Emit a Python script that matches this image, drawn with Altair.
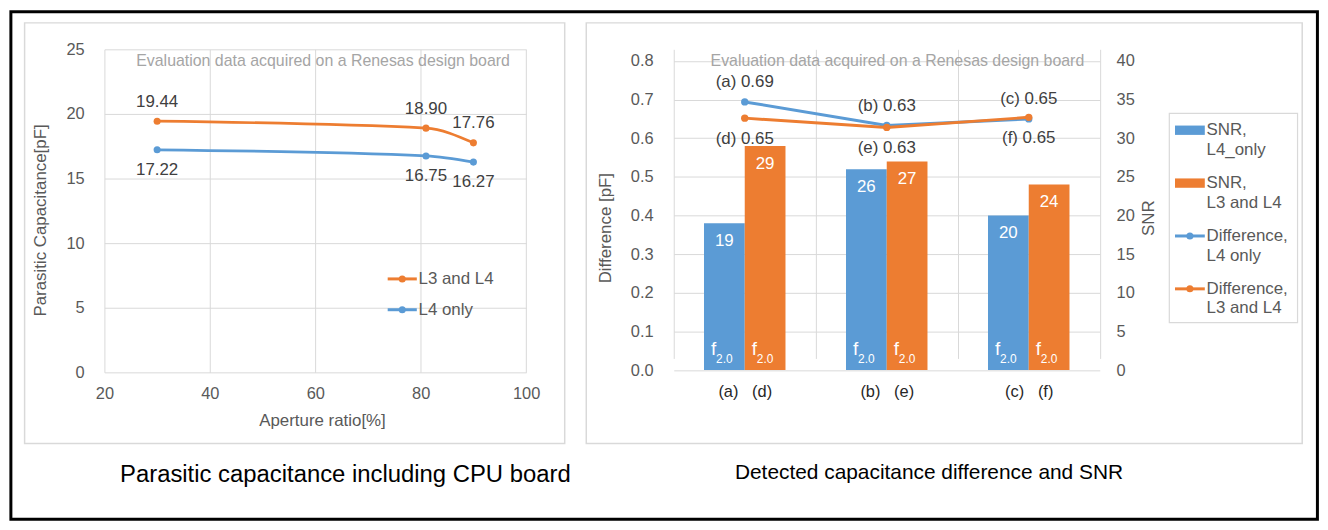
import altair as alt
import pandas as pd

# ---------------- data ----------------
# left chart: parasitic capacitance vs aperture ratio
aperture = [30, 81, 90]
cap_l3_l4 = [19.44, 18.90, 17.76]
cap_l4_only = [17.22, 16.75, 16.27]
cap_series = ["L3 and L4", "L4 only"]

# right chart: detected difference and SNR
categories = ["(a)\u00a0\u00a0\u00a0(d)", "(b)\u00a0\u00a0\u00a0(e)", "(c)\u00a0\u00a0\u00a0(f)"]
bar_series = ["SNR, L4_only", "SNR, L3 and L4"]
snr_l4_only = [19, 26, 20]
snr_l3_l4 = [29, 27, 24]
diff_l4_only = [0.694, 0.633, 0.650]
diff_l3_l4 = [0.652, 0.628, 0.654]
diff_l4_tags = ["(a) 0.69", "(b) 0.63", "(c) 0.65"]
diff_l3_l4_tags = ["(d) 0.65", "(e) 0.63", "(f) 0.65"]

# ---------------- styling ----------------
FONT = "Liberation Sans"
BLUE = "#5B9BD5"
ORANGE = "#ED7D31"
GRID = "#D9D9D9"
AXIS_TXT = "#595959"
DATA_TXT = "#404040"
NOTE_TXT = "#A5A5A5"
NOTE = "Evaluation data acquired on a Renesas design board"

one = pd.DataFrame({"k": [0]})


def txt(text, x, y, size, color, align="center"):
    return alt.Chart(one).mark_text(
        text=text, font=FONT, fontSize=size, color=color, align=align, baseline="middle"
    ).encode(x=alt.value(x), y=alt.value(y))


def frame(x1, x2, y1, y2, color, width):
    return alt.Chart(one).mark_rect(
        fillOpacity=0, stroke=color, strokeWidth=width
    ).encode(x=alt.value(x1), x2=alt.value(x2), y=alt.value(y1), y2=alt.value(y2))


def swatch(x1, x2, yc, h, color):
    return alt.Chart(one).mark_rect(color=color).encode(
        x=alt.value(x1), x2=alt.value(x2), y=alt.value(yc - h / 2), y2=alt.value(yc + h / 2)
    )


def line_key(x1, x2, yc, color):
    r = alt.Chart(one).mark_rule(color=color, strokeWidth=3).encode(
        x=alt.value(x1), x2=alt.value(x2), y=alt.value(yc)
    )
    p = alt.Chart(one).mark_circle(color=color, size=50, opacity=1).encode(
        x=alt.value((x1 + x2) / 2), y=alt.value(yc)
    )
    return r + p


# ---------------- left panel ----------------
LW, LH = 424.3, 325

xl = alt.X(
    "ratio:Q",
    scale=alt.Scale(domain=[20, 100], nice=False, zero=False),
    axis=alt.Axis(
        values=[20, 40, 60, 80, 100], title="Aperture ratio[%]", grid=True, gridColor=GRID,
        domain=False, ticks=False, labelFlush=False, labelPadding=21, labelBaseline="middle",
        titleX=218.9, titleY=48.4, titleBaseline="middle",
    ),
)
yl = alt.Y(
    "cap:Q",
    scale=alt.Scale(domain=[0, 25], nice=False),
    axis=alt.Axis(
        values=[0, 5, 10, 15, 20, 25], title="Parasitic Capacitance[pF]", grid=True,
        gridColor=GRID, domain=False, ticks=False, labelFlush=False, labelPadding=20.4,
        titleAngle=270, titleX=-64.3, titleY=171.7, titleBaseline="middle", titleAlign="center",
    ),
)


def left_series(vals, color, dy):
    df = pd.DataFrame({"ratio": aperture, "cap": vals})
    df["label"] = df["cap"].map(lambda v: f"{v:.2f}")
    base = alt.Chart(df).encode(x=xl, y=yl)
    ln = base.mark_line(color=color, strokeWidth=2.75, interpolate="monotone")
    pt = base.mark_circle(color=color, size=50, opacity=1)
    lb = base.mark_text(font=FONT, fontSize=17, color=DATA_TXT, dy=dy).encode(text="label:N")
    return ln + pt + lb


left = alt.layer(
    frame(-94.1, 1220.4, -37.8, 472.7, "black", 3),
    frame(-80.3, 463.1, -26.6, 396.7, GRID, 1.5),
    left_series(cap_l4_only, BLUE, 20),
    left_series(cap_l3_l4, ORANGE, -19.7),
    txt(NOTE, 220, 11.7, 16, NOTE_TXT),
    line_key(285, 314.3, 231, ORANGE),
    txt(cap_series[0], 316, 231, 17, AXIS_TXT, "left"),
    line_key(285, 314.3, 262, BLUE),
    txt(cap_series[1], 316, 262, 17, AXIS_TXT, "left"),
    txt("Parasitic capacitance including CPU board", 242.4, 428.7, 24, "black"),
).properties(width=LW, height=LH)

# ---------------- right panel ----------------
RW, RH = 428.6, 322.7
RTOP = 11.7

xr = alt.X(
    "cat:N", sort=categories,
    scale=alt.Scale(paddingInner=0, paddingOuter=0),
    axis=alt.Axis(
        title=None, labelAngle=0, tickBand="extent", grid=True, gridColor=GRID, domain=False,
        ticks=False, labelPadding=21.7, labelBaseline="middle", labelColor="#262626",
    ),
)
xo = alt.XOffset("series:N", sort=bar_series, scale=alt.Scale(paddingInner=0, paddingOuter=0.7426))

y_snr = alt.Y(
    "snr:Q",
    scale=alt.Scale(domain=[0, 40], range=[RH, RTOP], nice=False),
    axis=alt.Axis(
        orient="right", values=list(range(0, 45, 5)), title="SNR", grid=False, domain=False,
        ticks=False, labelFlush=False, labelPadding=16.4, titleAngle=270, titleX=49,
        titleY=169.4, titleBaseline="middle", titleAlign="center",
    ),
)
y_diff = alt.Y(
    "diff:Q",
    scale=alt.Scale(domain=[0, 0.8], range=[RH, RTOP], nice=False),
    axis=alt.Axis(
        orient="left", values=[0, 0.1, 0.2, 0.3, 0.4, 0.5, 0.6, 0.7, 0.8], format=".1f",
        title="Difference [pF]", grid=True, gridColor=GRID, domain=False, ticks=False,
        labelFlush=False, labelPadding=20.7, titleAngle=270, titleX=-68.9, titleY=179.4,
        titleBaseline="middle", titleAlign="center",
    ),
)

bars_df = pd.DataFrame({
    "cat": categories + categories,
    "series": [bar_series[0]] * 3 + [bar_series[1]] * 3,
    "snr": snr_l4_only + snr_l3_l4,
})
bar_base = alt.Chart(bars_df).encode(x=xr, xOffset=xo)
bars = bar_base.mark_bar().encode(
    y=y_snr,
    color=alt.Color("series:N", scale=alt.Scale(domain=bar_series, range=[BLUE, ORANGE]), legend=None),
)
bar_lbl = bar_base.mark_text(font=FONT, fontSize=17, color="white", dy=17.7).encode(y=y_snr, text="snr:Q")
f_lbl = bar_base.mark_text(
    text="f", font=FONT, fontSize=19, color="white", align="left", baseline="alphabetic", dx=-13.5, dy=-15
).encode(y=alt.datum(0))
sub_lbl = bar_base.mark_text(
    text="2.0", font=FONT, fontSize=12, color="white", align="center", baseline="alphabetic", dy=-6.7
).encode(y=alt.datum(0))
bar_group = alt.layer(bars, bar_lbl, f_lbl, sub_lbl)


def diff_series(vals, tags, color, dy):
    df = pd.DataFrame({"cat": categories, "diff": vals, "tag": tags})
    base = alt.Chart(df).encode(x=xr, y=y_diff)
    ln = base.mark_line(color=color, strokeWidth=3)
    pt = base.mark_circle(color=color, size=55, opacity=1)
    lb = base.mark_text(font=FONT, fontSize=17, color=DATA_TXT, dy=dy).encode(text="tag:N")
    return [ln, pt, lb]


line_group = alt.layer(
    *diff_series(diff_l4_only, diff_l4_tags, BLUE, -20),
    *diff_series(diff_l3_l4, diff_l3_l4_tags, ORANGE, 21),
)

legend_rows = [81.4, 134.6, 187.8, 241.0]
legend_layers = [
    frame(498.6, 627.6, 64.4, 275, GRID, 1.2),
    swatch(504.3, 534.3, legend_rows[0], 9.4, BLUE),
    swatch(504.3, 534.3, legend_rows[1], 9.4, ORANGE),
    line_key(504.3, 534.3, legend_rows[2], BLUE),
    line_key(504.3, 534.3, legend_rows[3], ORANGE),
]
legend_text = [("SNR,", "L4_only"), ("SNR,", "L3 and L4"), ("Difference,", "L4 only"), ("Difference,", "L3 and L4")]
for yy, (a, b) in zip(legend_rows, legend_text):
    legend_layers.append(txt(a, 536, yy, 17, AXIS_TXT, "left"))
    legend_layers.append(txt(b, 536, yy + 19.7, 17, AXIS_TXT, "left"))

right = alt.layer(
    frame(-88, 632.3, -26.6, 396.7, GRID, 1.5),
    bar_group,
    line_group,
    txt(NOTE, 225, RTOP, 16, NOTE_TXT),
    *legend_layers,
    txt("Detected capacitance difference and SNR", 256.8, 426.7, 21, "black"),
).resolve_scale(y="independent").properties(width=RW, height=RH)

chart = alt.hconcat(left, right, spacing=147.8, bounds="flush").properties(
    padding=0, background="white"
).configure_view(stroke="transparent").configure_axis(
    labelFont=FONT, titleFont=FONT, labelFontSize=16.5, titleFontSize=17,
    labelColor=AXIS_TXT, titleColor=AXIS_TXT, titleFontWeight="normal",
)

chart.save("out.html", embed_options={"renderer": "svg", "actions": False})
